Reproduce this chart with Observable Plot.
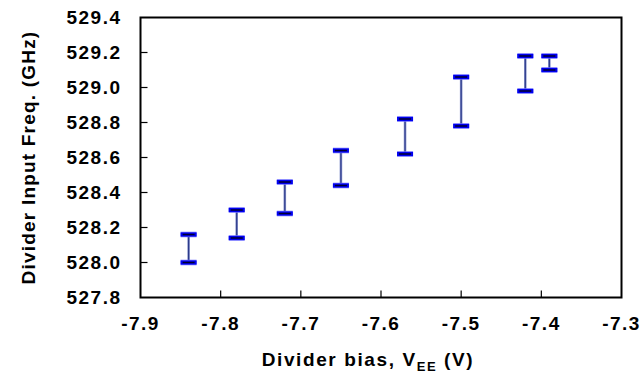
<!DOCTYPE html>
<html>
<head>
<meta charset="utf-8">
<script src="https://cdn.jsdelivr.net/npm/d3@7"></script>
<script src="https://cdn.jsdelivr.net/npm/@observablehq/plot@0.6"></script>
<style>
  html, body { margin: 0; padding: 0; background: #fff; }
  svg { display: block; }
</style>
</head>
<body>
<div id="chart"></div>
<script>
const bias     = [-7.84, -7.78, -7.72, -7.65, -7.57, -7.50, -7.42, -7.39];
const freqLow  = [528.00, 528.14, 528.28, 528.44, 528.62, 528.78, 528.98, 529.10];
const freqHigh = [528.16, 528.30, 528.46, 528.64, 528.82, 529.06, 529.18, 529.18];
const xTicks = [-7.9, -7.8, -7.7, -7.6, -7.5, -7.4, -7.3];
const yTicks = [527.8, 528.0, 528.2, 528.4, 528.6, 528.8, 529.0, 529.2, 529.4];
const yLabel = "Divider Input Freq. (GHz)";

const data = bias.map((x, i) => ({x, lo: freqLow[i], hi: freqHigh[i]}));
const caps = data.flatMap(d => [{x: d.x, y: d.lo}, {x: d.x, y: d.hi}]);

const capSymbol = {
  draw(context, size) {
    const r = Math.sqrt(size / Math.PI);
    context.moveTo(-r, 0);
    context.lineTo(r, 0);
  }
};
const tickRight = {draw(c) { c.moveTo(0, 0); c.lineTo(7, 0); }};
const tickUp = {draw(c) { c.moveTo(0, 0); c.lineTo(0, -7); }};

const font = "'Liberation Sans', Arial, sans-serif";

const chart = Plot.plot({
  width: 640,
  height: 383,
  marginLeft: 140,
  marginRight: 19,
  marginTop: 17,
  marginBottom: 86,
  style: {fontFamily: font, fontSize: "19px", fontWeight: "bold", color: "#000", background: "#fff"},
  x: {domain: [-7.9, -7.3], label: null},
  y: {domain: [527.8, 529.4], label: null},
  marks: [
    Plot.axisY({ticks: yTicks, tickSize: 0, tickPadding: 19, tickFormat: d => d.toFixed(1), label: null, fontSize: 19, fontWeight: "bold"}),
    Plot.axisX({ticks: xTicks, tickSize: 0, tickPadding: 19, tickFormat: d => d.toFixed(1), label: null, fontSize: 19, fontWeight: "bold"}),
    Plot.dot(yTicks.slice(1, -1), {x: () => -7.9, y: d => d, symbol: tickRight, stroke: "#000", strokeWidth: 1.2}),
    Plot.dot(xTicks.slice(1, -1), {x: d => d, y: () => 527.8, symbol: tickUp, stroke: "#000", strokeWidth: 1.2}),
    Plot.ruleX(data, {x: "x", y1: "lo", y2: "hi", stroke: "#8a95cc", strokeWidth: 2.6}),
    Plot.ruleX(data, {x: "x", y1: "lo", y2: "hi", stroke: "#2c3a8a", strokeWidth: 1.2}),
    Plot.dot(caps, {x: "x", y: "y", symbol: capSymbol, r: 8, stroke: "#6a6aff", strokeWidth: 5.5}),
    Plot.dot(caps, {x: "x", y: "y", symbol: capSymbol, r: 8, stroke: "#0000ee", strokeWidth: 4}),
    Plot.dot(caps, {x: "x", y: "y", symbol: capSymbol, r: 6, stroke: "#000030", strokeWidth: 1.5}),
    Plot.frame({stroke: "#000", strokeWidth: 2}),
    Plot.text([yLabel], {frameAnchor: "left", textAnchor: "middle", dx: -112, rotate: -90, fontSize: 19, fontWeight: "bold", fill: "#000"})
  ]
});

const svg = d3.select(chart);
svg.selectAll("g[aria-label='y-axis tick label'] text, g[aria-label='x-axis tick label'] text").style("letter-spacing", "1.5px");
svg.selectAll("g[aria-label='text'] text").style("letter-spacing", "1.2px");
const xl = svg.append("text")
  .attr("x", 368).attr("y", 366)
  .attr("text-anchor", "middle")
  .attr("font-family", font).attr("font-size", 19).attr("font-weight", "bold")
  .style("letter-spacing", "1.6px")
  .attr("fill", "#000");
xl.append("tspan").text("Divider bias, V");
xl.append("tspan").attr("font-size", 13).attr("dy", 5).text("EE");
xl.append("tspan").attr("dy", -5).text(" (V)");

document.getElementById("chart").appendChild(chart);
</script>
</body>
</html>
